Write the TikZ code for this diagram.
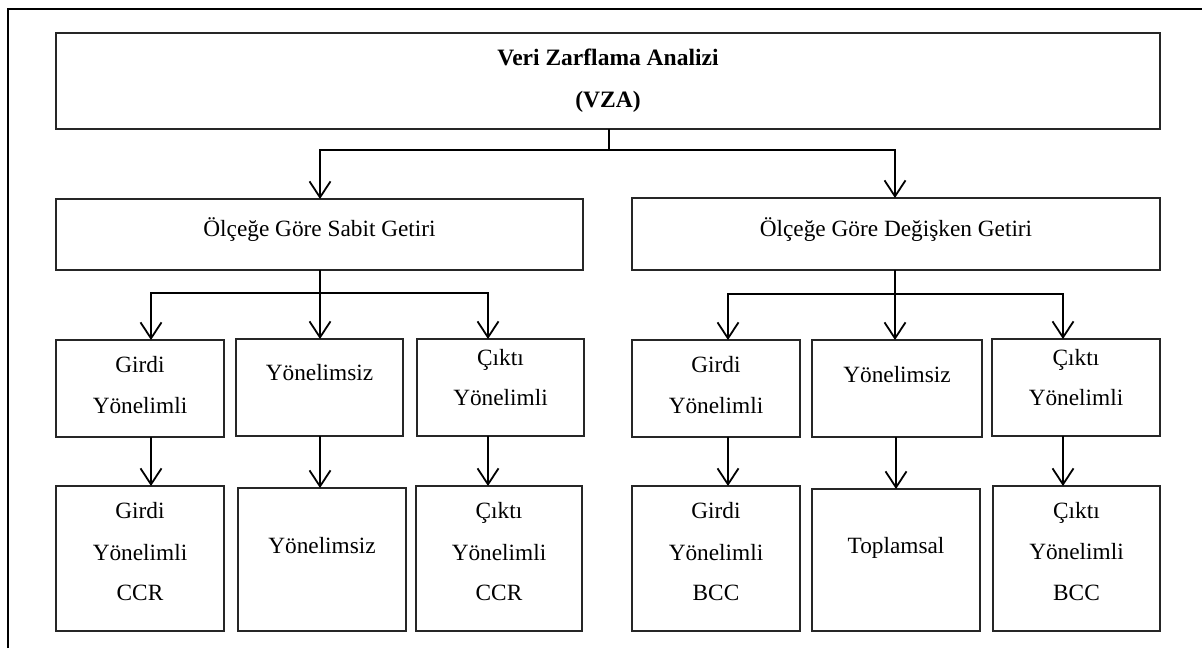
\documentclass[tikz,border=0pt]{standalone}
\usepackage{fontspec}
\setmainfont{Liberation Serif}
\usetikzlibrary{arrows.meta}
\begin{document}
\begin{tikzpicture}[x=1pt,y=-1pt,
  box/.style={draw=black!85, line width=1.4pt, rectangle, inner sep=0pt, outer sep=0pt},
  conn/.style={draw=black, line width=1.8pt},
  arr/.style={conn, -{Straight Barb[length=16pt,width=21pt]}},
  txt/.style={anchor=base, inner sep=0pt, font=\fontsize{23.3}{28}\selectfont},
  ttl/.style={anchor=base, inner sep=0pt, font=\fontsize{23.5}{28}\selectfont\bfseries}]
\useasboundingbox (0,0) rectangle (1202,648);
\fill[white] (0,0) rectangle (1202,648);
% outer frame (only top and left edges are inside the picture)
\draw[line width=2pt] (8,648) -- (8,9) -- (1202,9);
% boxes
\node[box, minimum width=1104pt, minimum height=96pt] (top) at (608,81) {};
\node[box, minimum width=527pt, minimum height=71pt] (sabit) at (319.5,234.5) {};
\node[box, minimum width=528pt, minimum height=72pt] (degisken) at (896,234) {};
\node[box, minimum width=168pt, minimum height=97pt] (A3) at (140,388.5) {};
\node[box, minimum width=167pt, minimum height=97pt] (B3) at (319.5,387.5) {};
\node[box, minimum width=167pt, minimum height=97pt] (C3) at (500.5,387.5) {};
\node[box, minimum width=168pt, minimum height=97pt] (D3) at (716,388.5) {};
\node[box, minimum width=170pt, minimum height=97pt] (E3) at (897,388.5) {};
\node[box, minimum width=168pt, minimum height=97pt] (F3) at (1076,387.5) {};
\node[box, minimum width=168pt, minimum height=145pt] (A4) at (140,558.5) {};
\node[box, minimum width=168pt, minimum height=143pt] (B4) at (322,559.5) {};
\node[box, minimum width=166pt, minimum height=145pt] (C4) at (499,558.5) {};
\node[box, minimum width=168pt, minimum height=145pt] (D4) at (716,558.5) {};
\node[box, minimum width=168pt, minimum height=142pt] (E4) at (896,560) {};
\node[box, minimum width=167pt, minimum height=145pt] (F4) at (1076.5,558.5) {};
% texts
\node[ttl] (t1) at (608,65) {Veri Zarflama Analizi};
\node[ttl] (t2) at (608,107) {(VZA)};
\node[txt] (ts) at (319.5,236) {Ölçeğe Göre Sabit Getiri};
\node[txt] (td) at (896,236) {Ölçeğe Göre Değişken Getiri};
\node[txt] (a3a) at (140,372) {Girdi};
\node[txt] (a3b) at (140,413) {Yönelimli};
\node[txt] (b3a) at (319.5,380) {Yönelimsiz};
\node[txt] (c3a) at (500.5,365) {Çıktı};
\node[txt] (c3b) at (500.5,405) {Yönelimli};
\node[txt] (d3a) at (716,372) {Girdi};
\node[txt] (d3b) at (716,413) {Yönelimli};
\node[txt] (e3a) at (897,382) {Yönelimsiz};
\node[txt] (f3a) at (1076,365) {Çıktı};
\node[txt] (f3b) at (1076,405) {Yönelimli};
\node[txt] (a4a) at (140,518) {Girdi};
\node[txt] (a4b) at (140,560) {Yönelimli};
\node[txt] (a4c) at (140,600) {CCR};
\node[txt] (b4a) at (322,553) {Yönelimsiz};
\node[txt] (c4a) at (499,518) {Çıktı};
\node[txt] (c4b) at (499,560) {Yönelimli};
\node[txt] (c4c) at (499,600) {CCR};
\node[txt] (d4a) at (716,518) {Girdi};
\node[txt] (d4b) at (716,560) {Yönelimli};
\node[txt] (d4c) at (716,600) {BCC};
\node[txt] (e4a) at (896,553) {Toplamsal};
\node[txt] (f4a) at (1076.5,518) {Çıktı};
\node[txt] (f4b) at (1076.5,559) {Yönelimli};
\node[txt] (f4c) at (1076.5,600) {BCC};
% level 1 -> 2
\draw[arr] ([xshift=1pt]top.south) -- ++(0,21) -| ([xshift=0.5pt]sabit.north);
\draw[arr] ([xshift=1pt]top.south) -- ++(0,21) -| ([xshift=-1pt]degisken.north);
% level 2 -> 3 (left)
\coordinate (sb) at ([xshift=0.5pt]sabit.south);
\draw[arr] (sb) -- ++(0,23) -| ([xshift=11pt]A3.north);
\draw[arr] (sb) -- (B3.north -| sb);
\draw[arr] (sb) -- ++(0,23) -| ([xshift=-12.5pt]C3.north);
% level 2 -> 3 (right)
\coordinate (db) at ([xshift=-1pt]degisken.south);
\draw[arr] (db) -- ++(0,24) -| ([xshift=12pt]D3.north);
\draw[arr] (db) -- (E3.north -| db);
\draw[arr] (db) -- ++(0,24) -| ([xshift=-13pt]F3.north);
% level 3 -> 4
\draw[arr] ([xshift=11pt]A3.south) -- ([xshift=11pt]A3.south |- A4.north);
\draw[arr] ([xshift=0.5pt]B3.south) -- ([xshift=0.5pt]B3.south |- B4.north);
\draw[arr] ([xshift=-12.5pt]C3.south) -- ([xshift=-12.5pt]C3.south |- C4.north);
\draw[arr] ([xshift=12pt]D3.south) -- ([xshift=12pt]D3.south |- D4.north);
\draw[arr] ([xshift=-1pt]E3.south) -- ([xshift=-1pt]E3.south |- E4.north);
\draw[arr] ([xshift=-13pt]F3.south) -- ([xshift=-13pt]F3.south |- F4.north);
\end{tikzpicture}
\end{document}
